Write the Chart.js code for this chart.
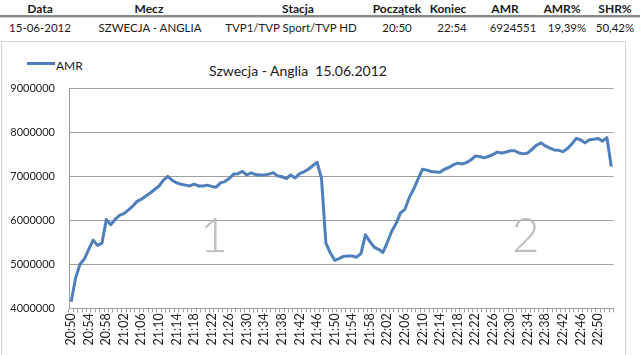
<!DOCTYPE html>
<html>
<head>
<meta charset="utf-8">
<script src="https://cdn.jsdelivr.net/npm/chart.js@4.4.1/dist/chart.umd.min.js"></script>
<style>
  html, body { margin:0; padding:0; background:#fff; }
  body { width:640px; height:355px; position:relative; overflow:hidden; font-family: Lato, "Open Sans", sans-serif; color:#1a1a1a; }
  .cell { position:absolute; transform:translate(-50%, -50%); white-space:pre; line-height:1; }
  .hdr { font-weight:bold; font-size:12px; top:8.5px; }
  .row { font-size:11.5px; top:27.5px; }
  #sep1 { position:absolute; left:0; top:15px; width:640px; height:2px; background:#8a8a8a; }
  #sep2 { position:absolute; left:0; top:17px; width:640px; height:1px; background:#cfcfcf; }
  #box { position:absolute; left:1px; top:41px; width:625px; height:330px; border:1px solid #d4d4d4; box-sizing:border-box; }
  #title { position:absolute; left:298px; top:70px; transform:translate(-50%,-50%); font-size:14px; white-space:pre; color:#1a1a1a; }
  #legLine { position:absolute; left:27px; top:62px; width:28px; height:3px; background:#4f7fba; }
  #legText { position:absolute; left:56px; top:64.5px; transform:translateY(-50%); font-size:12px; color:#1a1a1a; }
  canvas { position:absolute; left:0; top:0; }
</style>
</head>
<body>
<div id="box"></div>
<div id="sep1"></div><div id="sep2"></div>
<div id="table"></div>
<div id="title">Szwecja - Anglia  15.06.2012</div>
<div id="legLine"></div><div id="legText">AMR</div>
<canvas id="c" width="640" height="355"></canvas>
<script>
// ---- table content ----
const tableHeaders = ['Data', 'Mecz', 'Stacja', 'Początek', 'Koniec', 'AMR', 'AMR%', 'SHR%'];
const tableRow = ['15-06-2012', 'SZWECJA - ANGLIA', 'TVP1/TVP Sport/TVP HD', '20:50', '22:54', '6924551', '19,39%', '50,42%'];
const headerCenters = [40, 149, 298, 397, 448, 505, 562, 615];
const rowCenters = [40, 150, 291, 397, 452, 513, 567, 615];

// ---- chart data ----
const categories = [
 '20:50','20:51','20:52','20:53','20:54','20:55','20:56','20:57','20:58','20:59',
 '21:00','21:01','21:02','21:03','21:04','21:05','21:06','21:07','21:08','21:09',
 '21:10','21:11','21:12','21:13','21:14','21:15','21:16','21:17','21:18','21:19',
 '21:20','21:21','21:22','21:23','21:24','21:25','21:26','21:27','21:28','21:29',
 '21:30','21:31','21:32','21:33','21:34','21:35','21:36','21:37','21:38','21:39',
 '21:40','21:41','21:42','21:43','21:44','21:45','21:46','21:47','21:48','21:49',
 '21:50','21:51','21:52','21:53','21:54','21:55','21:56','21:57','21:58','21:59',
 '22:00','22:01','22:02','22:03','22:04','22:05','22:06','22:07','22:08','22:09',
 '22:10','22:11','22:12','22:13','22:14','22:15','22:16','22:17','22:18','22:19',
 '22:20','22:21','22:22','22:23','22:24','22:25','22:26','22:27','22:28','22:29',
 '22:30','22:31','22:32','22:33','22:34','22:35','22:36','22:37','22:38','22:39',
 '22:40','22:41','22:42','22:43','22:44','22:45','22:46','22:47','22:48','22:49',
 '22:50','22:51','22:52','22:53'
];
const amr = [
 4150000,4690000,5000000,5120000,5340000,5550000,5430000,5480000,6020000,5900000,
 6020000,6110000,6150000,6230000,6320000,6430000,6480000,6550000,6620000,6700000,
 6780000,6910000,7000000,6910000,6850000,6820000,6800000,6780000,6820000,6780000,
 6780000,6800000,6770000,6750000,6850000,6880000,6950000,7050000,7060000,7110000,
 7030000,7080000,7040000,7030000,7030000,7050000,7080000,7010000,6990000,6950000,
 7030000,6960000,7060000,7100000,7160000,7240000,7320000,6950000,5480000,5260000,
 5090000,5130000,5180000,5190000,5190000,5160000,5250000,5670000,5520000,5390000,
 5340000,5270000,5500000,5750000,5930000,6170000,6250000,6520000,6710000,6940000,
 7160000,7140000,7110000,7100000,7090000,7160000,7200000,7260000,7300000,7280000,
 7310000,7370000,7460000,7450000,7420000,7450000,7490000,7550000,7530000,7550000,
 7580000,7580000,7530000,7510000,7530000,7620000,7710000,7760000,7690000,7640000,
 7600000,7590000,7560000,7630000,7730000,7860000,7830000,7760000,7830000,7840000,
 7860000,7800000,7880000,7220000
];
const yTicks = [4000000, 5000000, 6000000, 7000000, 8000000, 9000000];
const labelEvery = 4;
const segmentMarks = ['1', '2'];
const segmentAnchorIndex = [32.5, 103.5];
const segmentAnchorValue = [5270000, 5270000];

// build table
const t = document.getElementById('table');
tableHeaders.forEach((h, i) => {
  const d = document.createElement('div'); d.className = 'cell hdr'; d.textContent = h;
  d.style.left = headerCenters[i] + 'px'; t.appendChild(d);
});
tableRow.forEach((h, i) => {
  const d = document.createElement('div'); d.className = 'cell row'; d.textContent = h;
  d.style.left = rowCenters[i] + 'px'; t.appendChild(d);
});

const bigText = {
  id: 'bigText',
  afterDatasetsDraw(chart) {
    const ctx = chart.ctx, xs = chart.scales.x, ys = chart.scales.y;
    ctx.save();
    ctx.font = '300 48px Lato, "Open Sans", sans-serif';
    ctx.fillStyle = '#bdbdbd';
    ctx.textAlign = 'center';
    ctx.textBaseline = 'alphabetic';
    segmentMarks.forEach((m, i) => {
      ctx.fillText(m, xs.getPixelForValue(segmentAnchorIndex[i]), ys.getPixelForValue(segmentAnchorValue[i]));
    });
    ctx.restore();
  }
};

new Chart(document.getElementById('c'), {
  type: 'line',
  data: {
    labels: categories,
    datasets: [{
      label: 'AMR', data: amr, borderColor: '#4f7fba', borderWidth: 3,
      pointRadius: 0, tension: 0, fill: false, borderJoinStyle: 'round'
    }]
  },
  options: {
    responsive: false, animation: false, events: [],
    layout: { padding: { top: 88.3, left: 0, right: 26.5, bottom: 0 } },
    plugins: { legend: { display: false }, title: { display: false }, tooltip: { enabled: false } },
    scales: {
      x: {
        type: 'category', offset: true,
        afterFit(s) { s.height = 46.7; },
        grid: { display: true, drawOnChartArea: false, drawTicks: true, tickLength: 4, color: '#a0a0a0', offset: true },
        border: { display: true, color: '#a0a0a0' },
        ticks: {
          autoSkip: false, minRotation: 90, maxRotation: 90, padding: 1,
          color: '#222', font: { family: 'Lato, "Open Sans", sans-serif', size: 12.5 },
          callback(v, i) { return i % labelEvery === 0 ? categories[i] : ''; }
        }
      },
      y: {
        min: yTicks[0], max: yTicks[yTicks.length - 1],
        afterFit(s) { s.width = 69; },
        afterBuildTicks(s) { s.ticks = yTicks.map(v => ({ value: v })); },
        grid: { color: '#a0a0a0', drawTicks: false },
        border: { display: true, color: '#a0a0a0' },
        ticks: { padding: 14, color: '#222', font: { family: 'Lato, "Open Sans", sans-serif', size: 11 },
          callback(v) { return String(v); } }
      }
    }
  },
  plugins: [bigText]
});
</script>
</body>
</html>
